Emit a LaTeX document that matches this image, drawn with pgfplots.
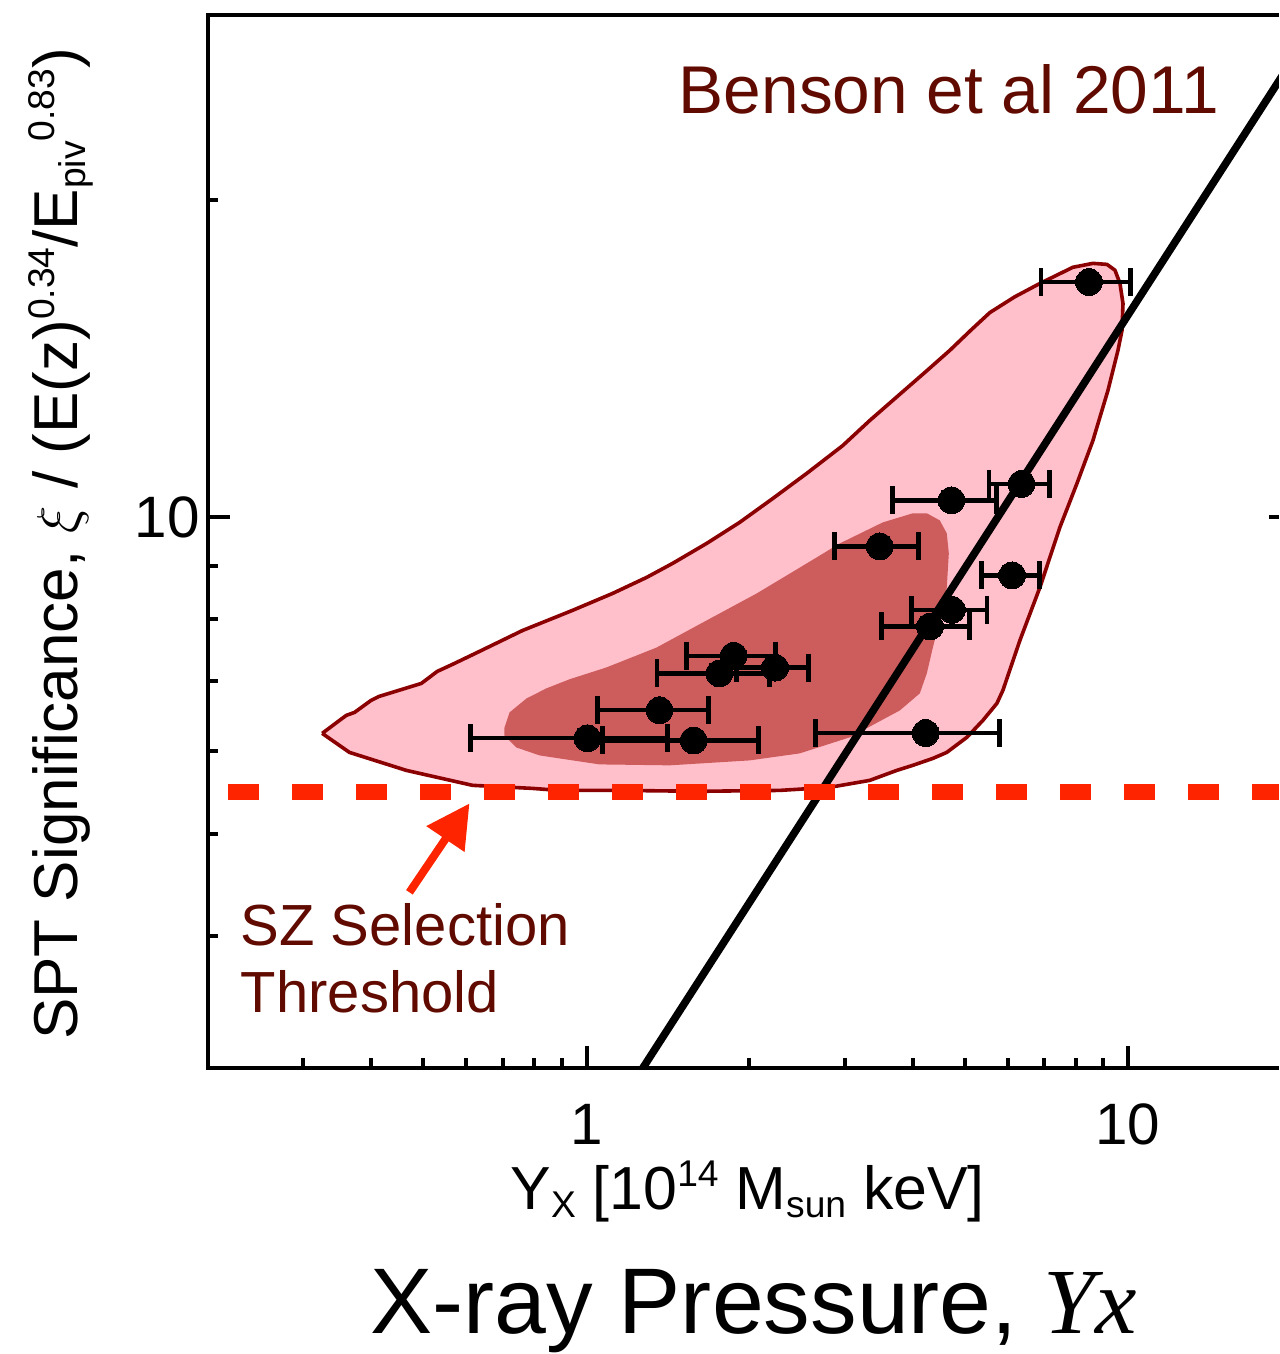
\documentclass[border=0pt]{standalone}
\usepackage{pgfplots}
\pgfplotsset{compat=1.18}
\usepackage{pgfplotstable}
\usetikzlibrary{arrows.meta}
\usepackage{fontspec}
\setmainfont{Liberation Sans}
\newfontfamily\serifit{Liberation Serif}

\definecolor{contourpink}{RGB}{255,192,203}
\definecolor{contourred}{RGB}{139,0,0}
\definecolor{innerred}{RGB}{205,92,92}
\definecolor{labelred}{RGB}{96,10,0}
\definecolor{cutred}{RGB}{255,36,0}

\newcommand\supx[1]{\raisebox{5.8pt}{\fontsize{9.3}{9}\selectfont #1}}
\newcommand\subx[1]{\raisebox{-1.8pt}{\fontsize{9.3}{9}\selectfont #1}}

% outer (light) confidence region
\pgfplotstableread{
x y
0.325 6.236
0.360 6.486
0.373 6.529
0.400 6.702
0.414 6.761
0.4955 6.956
0.530 7.141
0.570 7.266
0.634 7.460
0.762 7.811
0.942 8.160
1.117 8.468
1.291 8.770
1.442 9.043
1.667 9.447
1.918 9.891
2.207 10.42
2.551 11.01
2.973 11.70
3.335 12.36
3.790 13.09
4.250 13.78
4.688 14.41
5.120 15.05
5.557 15.65
6.180 16.20
6.876 16.68
7.912 17.28
8.615 17.43
9.145 17.39
9.462 17.17
9.665 16.68
9.790 15.96
9.748 15.05
9.583 14.41
9.183 13.20
8.615 11.83
8.049 10.77
7.485 9.784
6.876 8.581
6.315 7.642
5.875 6.851
5.727 6.659
5.395 6.415
5.040 6.182
4.628 5.982
4.362 5.904
4.005 5.815
3.741 5.751
3.335 5.627
2.813 5.542
2.274 5.505
1.618 5.494
1.151 5.505
0.891 5.505
0.795 5.529
0.616 5.566
0.465 5.751
0.365 5.982
0.325 6.236
}\outerregion

% inner (dark) confidence region
\pgfplotstableread{
x y
0.705 6.304
0.721 6.529
0.775 6.731
0.843 6.881
0.930 7.019
1.089 7.204
1.347 7.524
1.667 7.984
2.062 8.468
2.551 9.043
2.936 9.447
3.525 9.891
4.005 10.09
4.251 10.09
4.492 9.935
4.628 9.656
4.668 9.243
4.628 8.581
4.492 7.984
4.362 7.524
4.251 7.111
4.126 6.806
3.790 6.557
3.063 6.182
2.476 5.969
2.001 5.878
1.424 5.815
1.057 5.827
0.891 5.904
0.819 5.943
0.742 6.047
0.705 6.209
0.705 6.304
}\innerregion

% clusters: Y_X, xi, lower and upper Y_X bounds
\pgfplotstableread{
x y lo hi
1.004 6.17 0.61 1.41
1.577 6.14 1.07 2.08
1.364 6.56 1.048 1.68
1.76 7.11 1.35 2.18
1.87 7.39 1.53 2.23
2.23 7.20 1.89 2.57
3.48 9.386 2.87 4.10
4.72 10.38 3.68 5.72
6.36 10.76 5.54 7.17
6.11 8.81 5.37 6.86
4.73 8.17 3.98 5.49
4.31 7.88 3.51 5.09
4.23 6.24 2.65 5.80
8.47 16.73 6.91 10.09
}\clusters

% horizontal error bars as separate segments
\pgfplotstableread{
x y
0.61 6.17
1.41 6.17
nan nan
1.07 6.14
2.08 6.14
nan nan
1.048 6.56
1.68 6.56
nan nan
1.35 7.11
2.18 7.11
nan nan
1.53 7.39
2.23 7.39
nan nan
1.89 7.20
2.57 7.20
nan nan
2.87 9.386
4.10 9.386
nan nan
3.68 10.38
5.72 10.38
nan nan
5.54 10.76
7.17 10.76
nan nan
5.37 8.81
6.86 8.81
nan nan
3.98 8.17
5.49 8.17
nan nan
3.51 7.88
5.09 7.88
nan nan
2.65 6.24
5.80 6.24
nan nan
6.91 16.73
10.09 16.73
}\errbars

\begin{document}
\begin{tikzpicture}
\useasboundingbox (0,0) rectangle (319.75pt,338.5pt);
\clip (0,0) rectangle (319.75pt,338.5pt);
\begin{axis}[
  at={(52pt,71.5pt)}, anchor=south west,
  scale only axis, width=270.75pt, height=263.25pt,
  xmode=log, ymode=log,
  xmin=0.2, xmax=20, ymin=3, ymax=30,
  axis line style={line width=1pt},
  xtick={1,10}, xticklabels={1,10},
  minor xtick={0.3,0.4,0.5,0.6,0.7,0.8,0.9,2,3,4,5,6,7,8,9},
  ytick={10}, yticklabels={10},
  minor ytick={4,5,6,7,8,9,20},
  xtick pos=left,
  major tick length=5.5pt, minor tick length=2.5pt,
  every tick/.style={black, line width=1pt},
  tick label style={font=\fontsize{14.6}{16}\selectfont},
  xticklabel style={yshift=-5.5pt},
  yticklabel style={xshift=1.5pt},
  unbounded coords=jump,
]
\addplot[fill=contourpink, draw=contourred, line width=0.9pt, line join=round] table {\outerregion};
\addplot[fill=innerred, draw=none] table {\innerregion};
\addplot[black, line width=1.9pt] coordinates {(1,2.478) (20,27.06)};
\addplot[cutred, line width=4pt, dash pattern=on 7.75pt off 8.25pt, dash phase=11pt] coordinates {(0.2,5.48) (20,5.48)};
\addplot[black, line width=1.1pt, mark=|, mark size=3.5pt, mark options={line width=1.2pt}] table {\errbars};
\addplot[only marks, mark=*, mark size=3.35pt, mark options={draw=black, fill=black, line width=0pt}] table[x=x, y=y] {\clusters};
\draw[cutred, line width=2pt, -{Triangle[length=10.75pt, width=11pt]}] (axis cs:0.471,4.405) -- (axis cs:0.608,5.35);
\end{axis}
% annotations
\node[anchor=base west, inner sep=0pt, text=labelred, font=\fontsize{16.9}{20}\selectfont] at (169.5pt,310.25pt) {Benson et al 2011};
\node[anchor=base west, inner sep=0pt, text=labelred, font=\fontsize{14.5}{17}\selectfont] at (60pt,102.25pt) {SZ Selection};
\node[anchor=base west, inner sep=0pt, text=labelred, font=\fontsize{14.5}{17}\selectfont] at (60pt,85.25pt) {Threshold};
% axis titles
\node[anchor=base, inner sep=0pt, font=\fontsize{15.2}{18}\selectfont] at (186.9pt,36pt) {Y\subx{X} [10\supx{14} M\subx{sun} keV]};
\node[anchor=base, inner sep=0pt, rotate=90, font=\fontsize{15.5}{18}\selectfont] at (19.5pt,202.5pt) {SPT Significance, $\xi$ / (E(z)\supx{0.34}/E\subx{piv}\supx{0.83})};
\node[anchor=base, inner sep=0pt, font=\fontsize{23.3}{27}\selectfont] at (188.4pt,5.2pt) {X-ray Pressure, {\serifit\itshape Yx}};
\end{tikzpicture}
\end{document}
